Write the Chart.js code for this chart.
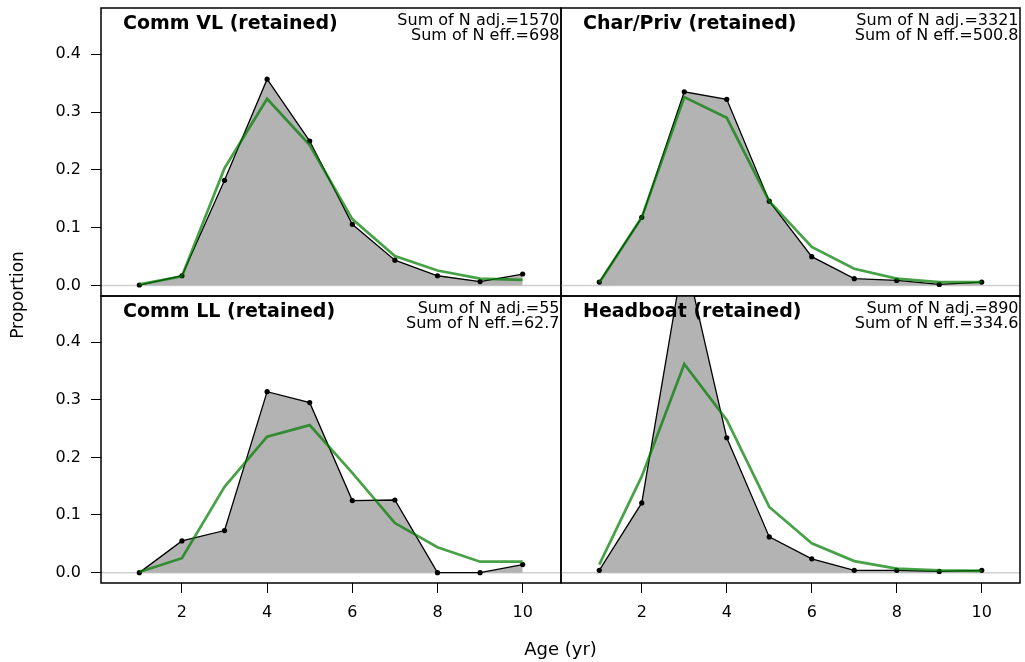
<!DOCTYPE html>
<html><head><meta charset="utf-8">
<script src="https://cdn.jsdelivr.net/npm/chart.js@4.4.0/dist/chart.umd.min.js"></script>
<style>
html,body{margin:0;padding:0;background:#fff;}
#wrap{position:relative;width:1025px;height:662px;overflow:hidden;background:#fff;}
#wrap canvas{position:absolute;left:0;top:0;}
</style></head><body>
<div id="wrap">
<canvas id="c1" width="1025" height="662"></canvas>
<canvas id="c2" width="1025" height="662"></canvas>
<canvas id="c3" width="1025" height="662"></canvas>
<canvas id="c4" width="1025" height="662"></canvas>
</div>
<script>
// ---- data ----
const ages = [1, 2, 3, 4, 5, 6, 7, 8, 9, 10];
const xTickValues = [2, 4, 6, 8, 10];
const yTickValues = [0, 0.1, 0.2, 0.3, 0.4];

const commVLObs    = [0.001, 0.017, 0.182, 0.357, 0.250, 0.106, 0.044, 0.017, 0.007, 0.020];
const commVLPred   = [0.002, 0.016, 0.203, 0.323, 0.243, 0.115, 0.051, 0.026, 0.012, 0.010];
const charPrivObs  = [0.006, 0.118, 0.335, 0.322, 0.146, 0.050, 0.012, 0.009, 0.002, 0.006];
const charPrivPred = [0.005, 0.118, 0.326, 0.290, 0.146, 0.067, 0.029, 0.012, 0.006, 0.006];
const commLLObs    = [0.000, 0.055, 0.073, 0.314, 0.295, 0.125, 0.126, 0.000, 0.000, 0.014];
const commLLPred   = [0.001, 0.025, 0.149, 0.236, 0.256, 0.173, 0.086, 0.044, 0.019, 0.019];
const headboatObs  = [0.004, 0.121, 0.555, 0.234, 0.062, 0.024, 0.004, 0.004, 0.002, 0.004];
const headboatPred = [0.014, 0.167, 0.362, 0.265, 0.114, 0.051, 0.020, 0.007, 0.004, 0.003];

const panelTitles = ["Comm VL (retained)", "Char/Priv (retained)", "Comm LL (retained)", "Headboat (retained)"];
const sumNAdj = ["1570", "3321", "55", "890"];
const sumNEff = ["698", "500.8", "62.7", "334.6"];
const xAxisTitle = "Age (yr)";
const yAxisTitle = "Proportion";

// ---- layout ----
const FONT = '"DejaVu Sans", "Liberation Sans", sans-serif';
const L = 101, M = 561, R = 1020, T = 8, MY = 296, B = 583;
const CW = 1025, CH = 662, WY = 60, HX = 40;

const panelDecor = {
  id: 'panelDecor',
  beforeDatasetsDraw(chart, args, opts) {
    const {ctx, chartArea: a, scales: {y}} = chart;
    const y0 = y.getPixelForValue(0);
    ctx.save();
    ctx.strokeStyle = '#d0d0d0'; ctx.lineWidth = 1.5;
    ctx.beginPath(); ctx.moveTo(a.left, y0); ctx.lineTo(a.right, y0); ctx.stroke();
    ctx.restore();
  },
  afterDatasetsDraw(chart, args, opts) {
    const {ctx, chartArea: a} = chart;
    ctx.save();
    ctx.strokeStyle = '#000'; ctx.lineWidth = 1.5;
    ctx.strokeRect(a.left, a.top, a.right - a.left, a.bottom - a.top);
    ctx.fillStyle = '#000';
    ctx.textBaseline = 'alphabetic';
    ctx.font = 'bold 19px ' + FONT; ctx.textAlign = 'left';
    ctx.fillText(opts.title, a.left + 22, a.top + 20.5);
    ctx.font = '16px ' + FONT; ctx.textAlign = 'right';
    ctx.fillText('Sum of N adj.=' + opts.adj, a.right - 1.5, a.top + 17);
    ctx.fillText('Sum of N eff.=' + opts.eff, a.right - 1.5, a.top + 31.5);
    if (opts.axisTitles) {
      ctx.font = '18px ' + FONT; ctx.textAlign = 'center';
      ctx.fillText(xAxisTitle, 560.5, 654.5);
      ctx.font = '17px ' + FONT;
      ctx.save();
      ctx.translate(22.5, 295); ctx.rotate(-Math.PI / 2);
      ctx.fillText(yAxisTitle, 0, 0);
      ctx.restore();
    }
    ctx.restore();
  }
};

function zeroPad(s) { s.paddingLeft = 0; s.paddingRight = 0; s.paddingTop = 0; s.paddingBottom = 0; }

function makeChart(id, obs, pred, k, pad, showX, showY, axisTitles) {
  return new Chart(document.getElementById(id), {
    type: 'line',
    data: {
      datasets: [
        {
          data: ages.map((a, i) => ({x: a, y: obs[i]})),
          borderColor: '#000', borderWidth: 1.3,
          backgroundColor: '#b3b3b3', fill: 'origin',
          pointRadius: 2.6, pointBackgroundColor: '#000', pointBorderWidth: 0,
          tension: 0, order: 2
        },
        {
          data: ages.map((a, i) => ({x: a, y: pred[i]})),
          borderColor: 'rgba(0,125,0,0.72)', borderWidth: 2.7,
          fill: false, pointRadius: 0, tension: 0, order: 1
        }
      ]
    },
    options: {
      responsive: false, animation: false, devicePixelRatio: 1,
      layout: {padding: pad},
      plugins: {
        legend: {display: false}, tooltip: {enabled: false},
        panelDecor: {title: panelTitles[k], adj: sumNAdj[k], eff: sumNEff[k], axisTitles: axisTitles}
      },
      scales: {
        x: {
          type: 'linear', min: 0.1, max: 10.9, display: showX,
          afterBuildTicks: s => { s.ticks = xTickValues.map(v => ({value: v})); },
          afterFit: s => { if (showX) { s.height = HX; zeroPad(s); } },
          grid: {display: true, drawOnChartArea: false, drawTicks: true, tickLength: 10, color: '#000', tickColor: '#000', lineWidth: 1},
          border: {display: false},
          ticks: {font: {family: FONT, size: 16}, color: '#000', padding: 10, maxRotation: 0, autoSkip: false, callback: v => String(v)}
        },
        y: {
          type: 'linear', min: -0.018, max: 0.48, display: showY,
          afterBuildTicks: s => { s.ticks = yTickValues.map(v => ({value: v})); },
          afterFit: s => { if (showY) { s.width = WY; zeroPad(s); } },
          grid: {display: true, drawOnChartArea: false, drawTicks: true, tickLength: 10, color: '#000', tickColor: '#000', lineWidth: 1},
          border: {display: false},
          ticks: {font: {family: FONT, size: 16}, color: '#000', padding: 10, autoSkip: false, callback: v => v.toFixed(1)}
        }
      }
    },
    plugins: [panelDecor]
  });
}

makeChart('c1', commVLObs, commVLPred, 0, {left: L - WY, top: T, right: CW - M, bottom: CH - MY}, false, true, false);
makeChart('c2', charPrivObs, charPrivPred, 1, {left: M, top: T, right: CW - R, bottom: CH - MY}, false, false, false);
makeChart('c3', commLLObs, commLLPred, 2, {left: L - WY, top: MY, right: CW - M, bottom: CH - B - HX}, true, true, true);
makeChart('c4', headboatObs, headboatPred, 3, {left: M, top: MY, right: CW - R, bottom: CH - B - HX}, true, false, false);
</script>
</body></html>
